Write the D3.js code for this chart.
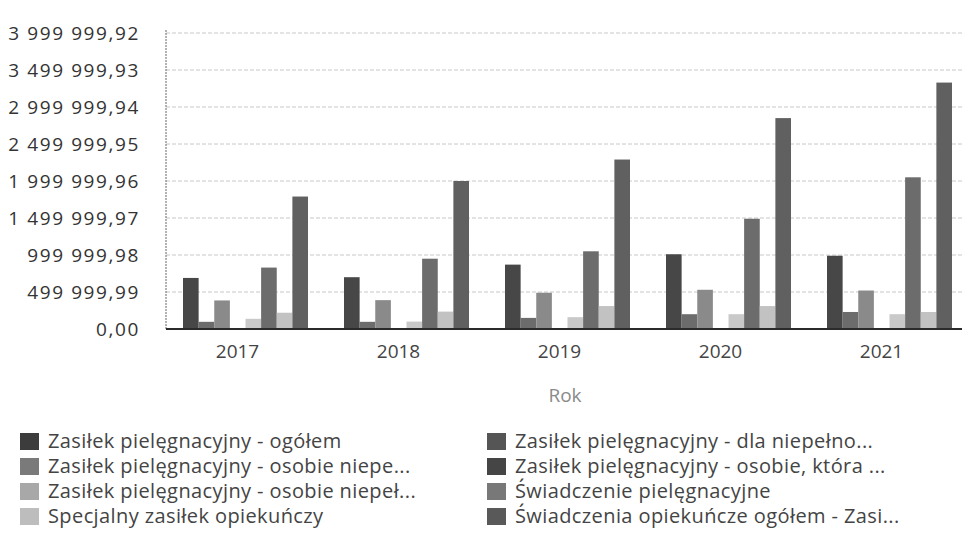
<!DOCTYPE html>
<html><head><meta charset="utf-8">
<script src="https://cdn.jsdelivr.net/npm/d3@7"></script>
<style>body{margin:0;background:#fff}svg{display:block}text{font-family:"Open Sans",sans-serif}</style>
</head><body><svg id="c" width="962" height="551"></svg>
<script>
const years = ["2017","2018","2019","2020","2021"];
const seriesNames = [
  "Zasiłek pielęgnacyjny - ogółem",
  "Zasiłek pielęgnacyjny - dla niepełno...",
  "Zasiłek pielęgnacyjny - osobie niepe...",
  "Zasiłek pielęgnacyjny - osobie, która ...",
  "Zasiłek pielęgnacyjny -  osobie niepeł...",
  "Świadczenie pielęgnacyjne",
  "Specjalny zasiłek opiekuńczy",
  "Świadczenia opiekuńcze ogółem - Zasi..."
];
const s1 = [690000, 700000, 870000, 1010000, 990000];
const s2 = [97000, 97000, 150000, 200000, 230000];
const s3 = [386000, 390000, 490000, 530000, 520000];
const s4 = [5000, 5000, 5000, 5000, 5000];
const s5 = [138000, 100000, 160000, 200000, 200000];
const s6 = [830000, 950000, 1050000, 1490000, 2050000];
const s7 = [220000, 235000, 310000, 310000, 230000];
const s8 = [1790000, 2000000, 2290000, 2850000, 3330000];
const seriesValues = [s1, s2, s3, s4, s5, s6, s7, s8];
const barColors = ["#474747","#6c6c6c","#8a8a8a","#404040","#c9c9c9","#6c6c6c","#c2c2c2","#606060"];
const legendColors = ["#3c3c3c","#555555","#7a7a7a","#454545","#a8a8a8","#787878","#bdbdbd","#595959"];
const tickValues = [0, 499999.99, 999999.98, 1499999.97, 1999999.96, 2499999.95, 2999999.94, 3499999.93, 3999999.92];
const tickLabels = ["0,00","499 999,99","999 999,98","1 499 999,97","1 999 999,96","2 499 999,95","2 999 999,94","3 499 999,93","3 999 999,92"];
const xTitle = "Rok";

const svg = d3.select("#c");
const y = d3.scaleLinear().domain([0, 3999999.92]).range([329, 33]);
const x0 = d3.scaleBand().domain(years).range([165, 970]);
const x1 = d3.scaleBand().domain(d3.range(seriesNames.length)).range([18, 143]);

// gridlines
svg.append("g").selectAll("line").data(tickValues.slice(1)).join("line")
  .attr("x1", 166).attr("x2", 962).attr("y1", d => y(d)).attr("y2", d => y(d))
  .attr("stroke", "#c8c8c8").attr("stroke-width", 1).attr("stroke-dasharray", "4,2");

// y labels
svg.append("g").selectAll("text").data(tickValues).join("text")
  .attr("x", 140).attr("y", d => y(d)).attr("dy", "0.35em")
  .attr("text-anchor", "end").attr("font-size", 19).attr("letter-spacing", 1.6).attr("fill", "#333")
  .text((d, i) => tickLabels[i]);

// y axis line
svg.append("line").attr("x1", 166).attr("x2", 166).attr("y1", 30).attr("y2", y(0))
  .attr("stroke", "#666").attr("stroke-width", 1).attr("stroke-dasharray", "2,1");

// bars
const groups = svg.append("g").selectAll("g").data(years).join("g")
  .attr("transform", d => `translate(${x0(d)},0)`);
groups.selectAll("rect").data((yr, yi) => seriesValues.map((arr, si) => ({si, v: arr[yi]}))).join("rect")
  .attr("x", d => x1(d.si)).attr("width", x1.bandwidth())
  .attr("y", d => y(d.v)).attr("height", d => y(0) - y(d.v))
  .attr("fill", d => barColors[d.si]);

// baseline
svg.append("line").attr("x1", 166).attr("x2", 962).attr("y1", y(0)).attr("y2", y(0))
  .attr("stroke", "#2a2a2a").attr("stroke-width", 2);

// x labels
svg.append("g").selectAll("text").data(years).join("text")
  .attr("x", d => x0(d) + x0.bandwidth() / 2 - 8).attr("y", 358)
  .attr("text-anchor", "middle").attr("font-size", 19).attr("fill", "#444").text(d => d);

svg.append("text").attr("x", 565).attr("y", 402).attr("text-anchor", "middle")
  .attr("font-size", 19).attr("fill", "#8a8a8a").text(xTitle);

// legend (row-wise, two columns)
const lg = svg.append("g").selectAll("g").data(seriesNames).join("g")
  .attr("transform", (d, i) => `translate(${i % 2 === 0 ? 20 : 487},${441 + Math.floor(i / 2) * 25})`);
lg.append("rect").attr("x", 0).attr("y", -8).attr("width", 19).attr("height", 17)
  .attr("fill", (d, i) => legendColors[i]);
lg.append("text").attr("x", 28).attr("y", 0).attr("dy", "0.35em")
  .attr("font-size", 20).attr("letter-spacing", 0.4).attr("fill", "#444").text(d => d);
</script></body></html>
